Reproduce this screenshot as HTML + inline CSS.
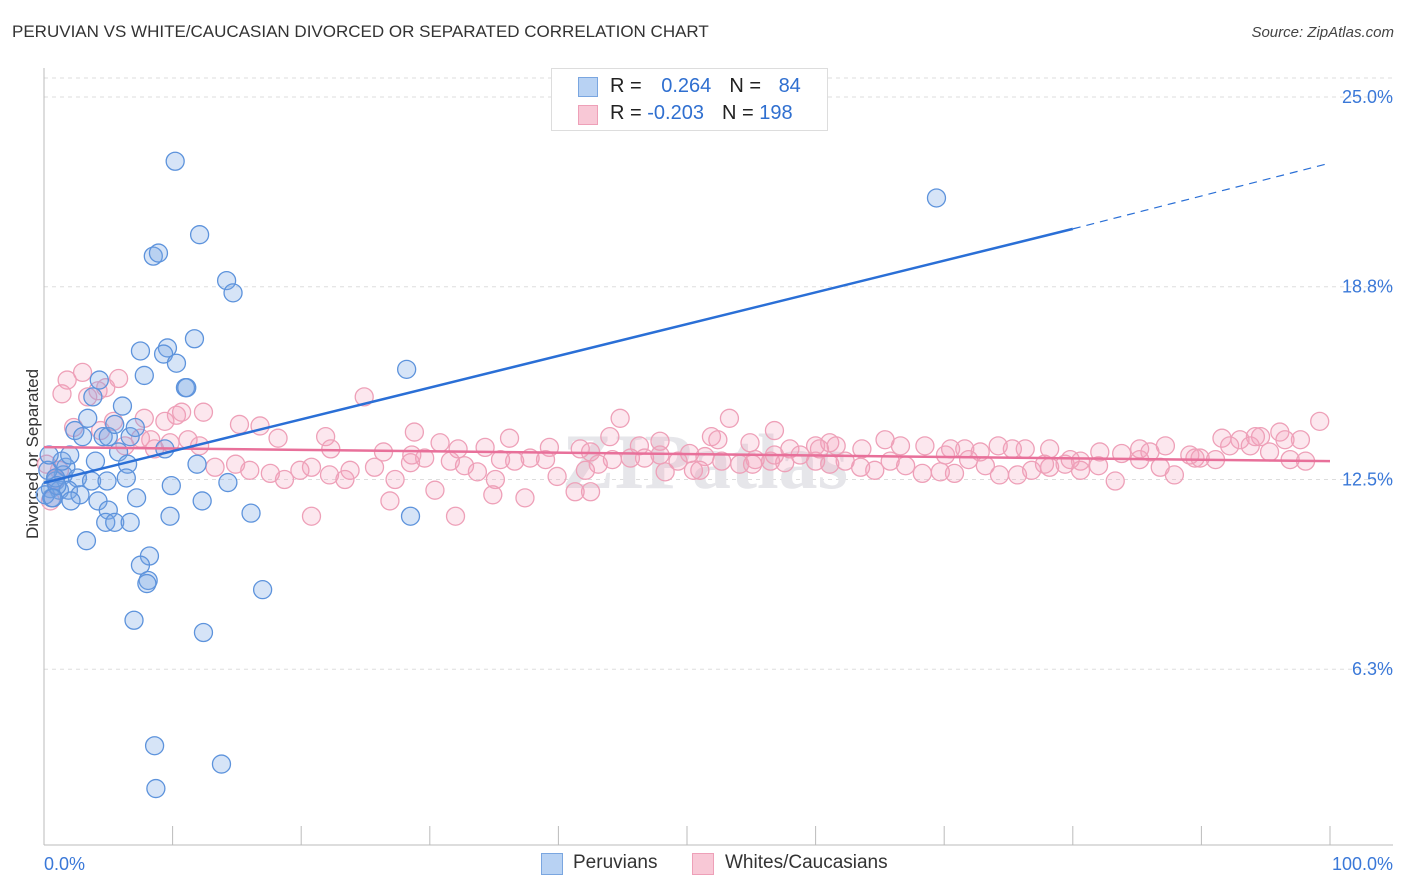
<!DOCTYPE html>
<html><head><meta charset="utf-8">
<style>
body{margin:0;background:#fff;font-family:"Liberation Sans",sans-serif;}
#wrap{position:relative;width:1406px;height:892px;overflow:hidden;}
.t{position:absolute;white-space:nowrap;}
</style></head>
<body><div id="wrap">
<div class="t" style="left:12px;top:22px;font-size:17px;color:#333;">PERUVIAN VS WHITE/CAUCASIAN DIVORCED OR SEPARATED CORRELATION CHART</div>
<div class="t" style="right:12px;top:24px;font-size:15px;color:#444;font-style:italic;">Source: ZipAtlas.com</div>
<div class="t" style="left:-52px;top:444px;font-size:17px;color:#333;transform:rotate(-90deg);">Divorced or Separated</div>
<svg id="svg" width="1406" height="892" style="position:absolute;left:0;top:0;"></svg>
<div style="position:absolute;left:551px;top:68px;width:275px;height:61px;border:1px solid #ddd;background:#fff;font-size:20px;">
 <div style="position:absolute;left:26px;top:8px;width:18px;height:18px;background:#b8d2f3;border:1px solid #7aa6e0;"></div>
 <div class="t" style="left:58px;top:6px;color:#222;">R = <span style="color:#2f6fd0;margin-left:14px">0.264</span><span style="margin-left:18px">N = </span><span style="color:#2f6fd0;margin-left:12px">84</span></div>
 <div style="position:absolute;left:26px;top:36px;width:18px;height:18px;background:#f8c8d6;border:1px solid #eea0b8;"></div>
 <div class="t" style="left:58px;top:33px;color:#222;">R = <span style="color:#2f6fd0">-0.203</span><span style="margin-left:18px">N = </span><span style="color:#2f6fd0">198</span></div>
</div>
<div style="position:absolute;left:541px;top:852px;font-size:19px;color:#333;">
 <div style="position:absolute;left:0;top:1px;width:20px;height:20px;background:#b8d2f3;border:1px solid #7aa6e0;"></div>
 <div class="t" style="left:32px;top:0;">Peruvians</div>
 <div style="position:absolute;left:151px;top:1px;width:20px;height:20px;background:#f8c8d6;border:1px solid #eea0b8;"></div>
 <div class="t" style="left:184px;top:0;">Whites/Caucasians</div>
</div>
</div>
<script>
const yTicks=[25.0,18.8,12.5,6.3];
const yTickLabels=["25.0%","18.8%","12.5%","6.3%"];
const xTickLabels=["0.0%","100.0%"];
const blueX=[10.2,12.1,8.5,8.9,14.2,14.7,11.7,7.5,9.6,9.3,10.3,28.2,4.3,11.0,11.1,7.8,3.8,6.1,3.4,2.4,3.0,4.6,5.0,6.7,7.1,5.5,9.4,5.8,6.5,11.9,4.0,1.7,1.5,2.6,3.7,4.9,6.4,0.9,0.5,1.2,1.9,0.6,0.1,2.8,2.1,4.2,7.2,9.9,12.3,14.3,16.1,28.5,9.8,5.0,4.8,5.5,6.7,3.3,8.2,7.5,8.1,8.0,17.0,7.0,12.4,8.6,13.8,8.7,69.4,0.3,0.9,1.0,1.4,2.0,0.7,0.4];
const blueY=[22.9,20.5,19.8,19.9,19.0,18.6,17.1,16.7,16.8,16.6,16.3,16.1,15.75,15.5,15.5,15.9,15.2,14.9,14.5,14.1,13.9,13.9,13.9,13.9,14.2,14.3,13.5,13.4,13.0,13.0,13.1,12.9,12.65,12.55,12.45,12.45,12.55,12.45,12.2,12.15,12.15,11.9,12.0,12.0,11.8,11.8,11.9,12.3,11.8,12.4,11.4,11.3,11.3,11.5,11.1,11.1,11.1,10.5,10.0,9.7,9.2,9.1,8.9,7.9,7.5,3.8,3.2,2.4,21.7,12.8,12.55,12.3,13.1,13.3,11.9,13.3];
const pinkX=[1.8,3.0,4.2,4.8,5.8,1.4,3.4,5.4,2.3,7.8,8.3,10.3,10.7,12.4,9.4,24.9,15.2,16.8,18.2,21.9,22.3,26.4,28.8,30.8,32.2,34.3,36.2,39.3,41.7,44.8,46.3,47.9,50.2,51.9,53.3,54.9,56.8,58.0,60.0,61.1,63.6,65.4,66.6,68.5,70.1,71.6,74.2,76.3,78.2,80.6,82.1,85.2,87.2,89.5,91.6,93.0,94.6,96.1,97.7,99.2,98.1,96.9,95.3,93.8,92.2,91.1,89.1,87.9,86.8,85.2,83.8,83.3,82.0,80.6,79.4,78.2,76.8,75.7,74.3,73.2,71.9,70.8,69.7,68.3,67.0,65.8,64.6,63.5,62.3,61.1,60.0,58.8,57.6,56.5,55.3,54.1,52.7,51.4,50.5,49.3,47.9,46.7,45.6,44.2,43.1,42.1,41.3,42.5,39.9,39.0,37.8,36.6,35.5,35.1,33.7,32.7,31.6,30.4,29.6,28.5,27.3,26.9,25.7,23.8,23.4,22.2,20.8,19.9,18.7,17.6,16.0,14.9,13.3,12.1,11.2,9.8,8.6,7.5,6.3,4.4,1.2,0.5,0.2,0.9,20.8,32.0,37.4,34.9,28.6,51.0,55.1,44.0,42.5,48.3,52.4,56.8,60.3,61.6,70.5,72.8,75.3,77.8,79.8,86.0,89.9,94.2,96.5];
const pinkY=[15.75,16.0,15.4,15.5,15.8,15.3,15.2,14.4,14.2,14.5,13.8,14.6,14.7,14.7,14.4,15.2,14.3,14.25,13.85,13.9,13.5,13.4,14.05,13.7,13.5,13.55,13.85,13.55,13.5,14.5,13.6,13.75,13.35,13.9,14.5,13.7,14.1,13.5,13.6,13.7,13.5,13.8,13.6,13.6,13.3,13.5,13.6,13.5,13.5,13.1,13.4,13.5,13.6,13.2,13.85,13.8,13.9,14.05,13.8,14.4,13.1,13.15,13.4,13.6,13.6,13.15,13.3,12.65,12.9,13.15,13.35,12.45,12.95,12.8,13.0,12.9,12.8,12.65,12.65,12.95,13.15,12.7,12.75,12.7,12.95,13.1,12.8,12.9,13.1,13.0,13.1,13.3,13.05,13.1,13.15,13.0,13.1,13.25,12.8,13.1,13.3,13.2,13.2,13.15,13.0,12.8,12.1,12.1,12.6,13.15,13.2,13.1,13.15,12.5,12.75,12.95,13.1,12.15,13.2,13.05,12.5,11.8,12.9,12.8,12.5,12.65,12.9,12.8,12.5,12.7,12.8,13.0,12.9,13.6,13.8,13.7,13.5,13.85,13.6,14.1,12.8,11.8,13.0,12.5,11.3,11.3,11.9,12.0,13.3,12.8,13.0,13.9,13.4,12.75,13.8,13.3,13.5,13.6,13.5,13.4,13.5,13.0,13.15,13.4,13.2,13.9,13.8];
const blueTrend=[12.39,20.69,22.84]; // y at x=0, x=80, x=100
const pinkTrend=[13.56,13.1]; // y at x=0, x=100

const X0=44,X1=1330;
const sx=v=>X0+(X1-X0)*v/100;
const sy=v=>97+(25-v)*30.6;
const svg=document.getElementById('svg');
const NS='http://www.w3.org/2000/svg';
function mk(tag,attrs){const e=document.createElementNS(NS,tag);for(const k in attrs)e.setAttribute(k,attrs[k]);svg.appendChild(e);return e;}
// gridlines
yTicks.forEach((v,i)=>{
 const g=mk('line',{x1:44,x2:1393,y1:sy(v),y2:sy(v),stroke:'#ddd','stroke-dasharray':'4,4'});
 
 
 const t=mk('text',{x:1393,y:sy(v)+6,'text-anchor':'end','font-size':18,fill:'#3a78d8','font-family':'Liberation Sans'});
 t.textContent=yTickLabels[i];
 
 
});
const topG=mk('line',{x1:44,x2:1393,y1:78,y2:78,stroke:'#ddd','stroke-dasharray':'4,4'});


// axes
const ya=mk('line',{x1:44,x2:44,y1:68,y2:845,stroke:'#bbb'});


const xa=mk('line',{x1:44,x2:1393,y1:845,y2:845,stroke:'#bbb'});


for(let i=0;i<=10;i++){
 const tk=mk('line',{x1:sx(i*10),x2:sx(i*10),y1:826,y2:845,stroke:'#bbb'});
 
 
}
[[0,'start',44],[1,'end',1393]].forEach(([i,a,x])=>{
 const t=mk('text',{x:x,y:870,'text-anchor':a,'font-size':18,fill:'#3a78d8','font-family':'Liberation Sans'});
 t.textContent=xTickLabels[i];
 
 
});
// watermark
const wm=mk('text',{x:705,y:488,'text-anchor':'middle','font-size':78,fill:'#e6e6ea','font-family':'Liberation Serif','font-weight':'bold'});
wm.textContent='ZIPatlas';


// points
pinkX.forEach((x,i)=>{
 const c=mk('circle',{cx:sx(x),cy:sy(pinkY[i]),r:9,fill:'rgba(244,160,186,0.25)',stroke:'#eea0b8','stroke-width':1.3});
 
 
});
blueX.forEach((x,i)=>{
 const c=mk('circle',{cx:sx(x),cy:sy(blueY[i]),r:9,fill:'rgba(120,165,230,0.3)',stroke:'#5d93dc','stroke-width':1.3});
 
 
});
// trend lines
const pl=mk('line',{x1:sx(0),y1:sy(pinkTrend[0]),x2:sx(100),y2:sy(pinkTrend[1]),stroke:'#e8709a','stroke-width':2.5});


const bl=mk('line',{x1:sx(0),y1:sy(blueTrend[0]),x2:sx(80),y2:sy(blueTrend[1]),stroke:'#2a6fd6','stroke-width':2.5});


const bd=mk('line',{x1:sx(80),y1:sy(blueTrend[1]),x2:sx(100),y2:sy(blueTrend[2]),stroke:'#2a6fd6','stroke-width':1.2,'stroke-dasharray':'8,6'});


</script>
</body></html>
